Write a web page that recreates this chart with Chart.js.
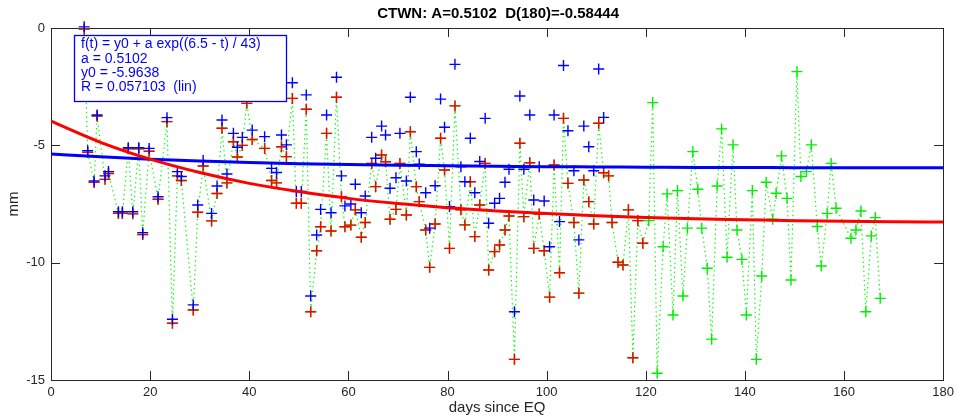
<!DOCTYPE html>
<html>
<head>
<meta charset="utf-8">
<script src="https://cdn.jsdelivr.net/npm/chart.js@4.4.1/dist/chart.umd.min.js"></script>
<style>
  html, body { margin: 0; padding: 0; background: #fff; }
  canvas { display: block; }
</style>
</head>
<body>
<canvas id="chart" width="959" height="419"></canvas>
<script>
// days that have both a red and a blue estimate
const pairDays = [
  6.7, 7.4, 8.7, 9.3, 10.9, 11.6, 13.6, 14.4, 15.6, 16.5,
  17.7, 18.5, 19.8, 21.6, 23.4, 24.5, 25.5, 26.3, 28.7, 29.6,
  30.7, 32.4, 33.5, 34.5, 35.5, 36.8, 37.6, 38.6, 39.5, 40.6,
  43.1, 44.5, 45.5, 46.5, 47.5, 48.7, 49.5, 50.5, 51.5, 52.4,
  53.6, 54.4, 55.6, 56.5, 57.6, 58.6, 59.3, 60.5, 61.4, 62.6,
  63.4, 64.7, 65.5, 66.7, 67.5, 68.4, 69.6, 70.4, 71.7, 72.5,
  73.7, 74.3, 75.6, 76.4, 77.5, 78.6, 79.4, 80.4, 81.5, 82.7,
  83.5, 84.6, 85.5, 86.5, 87.6, 88.3, 89.5, 90.5, 91.6, 92.4,
  93.5, 94.6, 95.4, 96.6, 97.4, 98.5, 99.5, 100.6, 101.5, 102.6,
  103.4, 104.3, 105.5, 106.5, 107.5, 108.5, 109.5, 110.5, 111.5
];
const blueValues = [
  0.05, -5.23, -6.52, -3.71, -6.30, -6.12, -7.83, -7.83, -5.10, -7.83,
  -5.10, -8.72, -5.13, -7.19, -3.82, -12.41, -6.12, -6.33, -11.80, -7.54,
  -5.65, -7.90, -6.73, -3.92, -6.22, -4.49, -5.08, -4.66, -2.80, -4.35,
  -4.63, -5.98, -6.16, -4.56, -4.98, -2.33, -6.97, -6.97, -2.85, -11.42,
  -8.82, -7.73, -3.71, -7.87, -2.10, -6.30, -7.58, -7.50, -6.66, -7.87,
  -7.16, -4.66, -5.55, -4.18, -4.56, -6.83, -6.38, -4.49, -6.52, -2.95,
  -5.27, -5.80, -7.02, -8.53, -6.72, -3.03, -4.23, -7.61, -1.55, -5.91,
  -6.55, -4.70, -7.02, -5.69, -3.85, -8.32, -7.47, -7.26, -6.57, -6.02,
  -12.09, -2.90, -6.02, -3.71, -7.33, -5.91, -7.37, -9.32, -3.71, -8.25,
  -1.60, -4.38, -6.08, -9.03, -4.18, -5.06, -6.08, -1.75, -3.81
];
const redValues = [
  -0.05, -5.30, -6.58, -3.75, -6.45, -6.20, -7.90, -7.90, -5.15, -7.92,
  -5.15, -8.80, -5.25, -7.30, -3.99, -12.58, -6.30, -6.50, -12.02, -7.85,
  -5.88, -8.22, -7.05, -4.27, -6.60, -4.85, -5.50, -5.00, -3.21, -4.75,
  -5.13, -6.50, -6.60, -5.06, -5.48, -3.00, -7.47, -7.47, -3.46, -12.09,
  -9.49, -8.47, -4.49, -8.65, -2.95, -7.19, -8.47, -8.40, -7.75, -8.92,
  -8.29, -5.77, -6.76, -5.41, -5.70, -8.15, -7.73, -5.77, -7.97, -4.42,
  -6.76, -7.40, -8.61, -10.20, -8.35, -4.70, -6.05, -9.39, -3.32, -7.75,
  -8.39, -6.55, -8.89, -7.54, -5.77, -10.31, -9.53, -9.25, -8.61, -8.01,
  -14.12, -4.91, -8.04, -5.74, -9.39, -7.93, -9.49, -11.47, -5.84, -10.43,
  -3.85, -6.62, -8.29, -11.30, -6.48, -7.40, -8.35, -4.06, -6.17
];

// red points after the blue series stops
const redOnlyDays = [112.5, 113.2, 114.4, 115.4, 116.5, 117.4, 118.4, 119.4];
const redOnlyValues = [-6.30, -8.29, -9.98, -10.10, -7.75, -14.05, -8.21, -9.17];

// green-only points (raw series beyond the red one)
const greenOnlyDays = [
  120.6, 121.4, 122.3, 123.5, 124.3, 125.5, 126.4, 127.5, 128.4, 129.5,
  130.5, 131.3, 132.4, 133.3, 134.4, 135.3, 136.4, 137.6, 138.4, 139.4,
  140.3, 141.5, 142.3, 143.4, 144.3, 145.6, 146.3, 147.4, 148.5, 149.3,
  150.5, 151.3, 152.4, 153.4, 154.6, 155.4, 156.6, 157.4, 158.4, 161.4,
  162.4, 163.4, 164.4, 165.5, 166.3, 167.3
];
const greenOnlyValues = [
  -8.21, -3.18, -14.71, -9.32, -7.07, -12.23, -6.93, -11.42, -8.53, -5.27,
  -6.87, -8.53, -10.24, -13.26, -6.73, -4.30, -9.77, -4.98, -8.61, -9.86,
  -12.23, -6.93, -14.12, -10.57, -6.57, -8.15, -7.04, -5.45, -7.26, -10.74,
  -1.86, -6.33, -6.12, -4.98, -8.46, -10.14, -7.90, -5.77, -7.68, -8.96,
  -8.61, -7.80, -12.09, -8.86, -8.08, -11.52
];

// fitted curves read every 10 days
const fitDays = [0, 10, 20, 30, 40, 50, 60, 70, 80, 90, 100, 110, 120, 130, 140, 150, 160, 170, 180];
const redFit = [-3.97, -4.87, -5.59, -6.16, -6.62, -6.97, -7.26, -7.48, -7.66, -7.80,
  -7.91, -8.00, -8.07, -8.13, -8.17, -8.21, -8.23, -8.26, -8.27];
const blueFit = [-5.37, -5.49, -5.59, -5.67, -5.73, -5.78, -5.82, -5.85, -5.87, -5.89,
  -5.91, -5.92, -5.93, -5.94, -5.94, -5.95, -5.95, -5.95, -5.96];

const xTicks = [0, 20, 40, 60, 80, 100, 120, 140, 160, 180];
const yTicks = [0, -5, -10, -15];

const titleText = 'CTWN: A=0.5102  D(180)=-0.58444';
const xLabel = 'days since EQ';
const yLabel = 'mm';
const fitLines = [
  'f(t) = y0 + a exp((6.5 - t) / 43)',
  'a = 0.5102',
  'y0 = -5.9638',
  'R = 0.057103  (lin)'
];

const FONT = '"Liberation Sans", Arial, Helvetica, sans-serif';
const AXIS_COLOR = '#262626';

const zip = (xs, ys) => xs.map((x, i) => ({ x, y: ys[i] }));

const bluePts = zip(pairDays, blueValues);
const redPts = zip(pairDays, redValues).concat(zip(redOnlyDays, redOnlyValues));
const greenPts = redPts.concat(zip(greenOnlyDays, greenOnlyValues));

const frame = {
  id: 'frame',
  beforeDatasetsDraw(chart) {
    const { ctx, chartArea: a, scales: { x, y } } = chart;
    const tl = 9;
    ctx.save();
    ctx.strokeStyle = AXIS_COLOR;
    ctx.lineWidth = 1;
    ctx.strokeRect(Math.round(a.left) + 0.5, Math.round(a.top) + 0.5,
      Math.round(a.width), Math.round(a.height));
    ctx.beginPath();
    xTicks.forEach(t => {
      const px = Math.round(x.getPixelForValue(t)) + 0.5;
      ctx.moveTo(px, a.bottom); ctx.lineTo(px, a.bottom - tl);
      ctx.moveTo(px, a.top); ctx.lineTo(px, a.top + tl);
    });
    yTicks.forEach(t => {
      const py = Math.round(y.getPixelForValue(t)) + 0.5;
      ctx.moveTo(a.left, py); ctx.lineTo(a.left + tl, py);
      ctx.moveTo(a.right, py); ctx.lineTo(a.right - tl, py);
    });
    ctx.stroke();
    ctx.restore();
  },
  afterDatasetsDraw(chart) {
    const { ctx, chartArea: a } = chart;
    ctx.save();
    // fit legend box
    const bx = 74, by = 35, bw = 212, bh = 66;
    ctx.fillStyle = '#fff';
    ctx.fillRect(bx, by, bw, bh);
    ctx.strokeStyle = '#0000ff';
    ctx.lineWidth = 1.3;
    ctx.strokeRect(bx + 0.5, by + 0.5, bw, bh);
    ctx.fillStyle = '#0000ff';
    ctx.font = '14px ' + FONT;
    ctx.textBaseline = 'middle';
    ctx.textAlign = 'left';
    fitLines.forEach((s, i) => ctx.fillText(s, 81, 44.5 + i * 14.3));

    // titles
    ctx.fillStyle = '#000';
    ctx.textAlign = 'center';
    ctx.font = 'bold 15px ' + FONT;
    ctx.fillText(titleText, (a.left + a.right) / 2 + 1, 14);
    ctx.fillStyle = AXIS_COLOR;
    ctx.font = '15px ' + FONT;
    ctx.fillText(xLabel, (a.left + a.right) / 2, 408);
    ctx.translate(14, (a.top + a.bottom) / 2);
    ctx.rotate(-Math.PI / 2);
    ctx.fillText(yLabel, 0, 0);
    ctx.restore();
  }
};

new Chart(document.getElementById('chart'), {
  type: 'scatter',
  data: {
    datasets: [
      {
        label: 'red fit', data: zip(fitDays, redFit), showLine: true,
        borderColor: '#ff0000', borderWidth: 3, pointRadius: 0,
        cubicInterpolationMode: 'monotone', order: 0
      },
      {
        label: 'blue fit', data: zip(fitDays, blueFit), showLine: true,
        borderColor: '#0000ff', borderWidth: 3, pointRadius: 0,
        cubicInterpolationMode: 'monotone', order: 1
      },
      {
        label: 'blue', data: bluePts, showLine: false,
        pointStyle: 'cross', pointRadius: 5.5, borderColor: '#0000ff',
        borderWidth: 1.4, clip: false, order: 2
      },
      {
        label: 'red', data: redPts, showLine: false,
        pointStyle: 'cross', pointRadius: 5.5, borderColor: '#ff0000',
        borderWidth: 1.4, clip: false, order: 3
      },
      {
        label: 'green', data: greenPts, showLine: true,
        borderColor: '#00ff00', borderWidth: 1.2, borderDash: [1.4, 3.2],
        pointStyle: 'cross', pointRadius: 5.5, pointBorderColor: '#00ee00',
        pointBorderWidth: 1.4, clip: false, order: 4
      }
    ]
  },
  options: {
    responsive: false,
    animation: false,
    devicePixelRatio: 1,
    layout: { padding: { top: 28, right: 15, left: 0, bottom: 0 } },
    plugins: { legend: { display: false }, tooltip: { enabled: false } },
    scales: {
      x: {
        type: 'linear', min: 0, max: 180,
        afterFit: s => { s.height = 39; },
        afterBuildTicks: s => { s.ticks = xTicks.map(v => ({ value: v })); },
        grid: { display: false, drawTicks: false },
        border: { display: false },
        ticks: { padding: 5, color: AXIS_COLOR, font: { family: FONT, size: 13 } }
      },
      y: {
        type: 'linear', min: -15, max: 0,
        afterFit: s => { s.width = 51; },
        afterBuildTicks: s => { s.ticks = yTicks.map(v => ({ value: v })); },
        grid: { display: false, drawTicks: false },
        border: { display: false },
        ticks: { padding: 6, color: AXIS_COLOR, font: { family: FONT, size: 13 } }
      }
    }
  },
  plugins: [frame]
});
</script>
</body>
</html>
